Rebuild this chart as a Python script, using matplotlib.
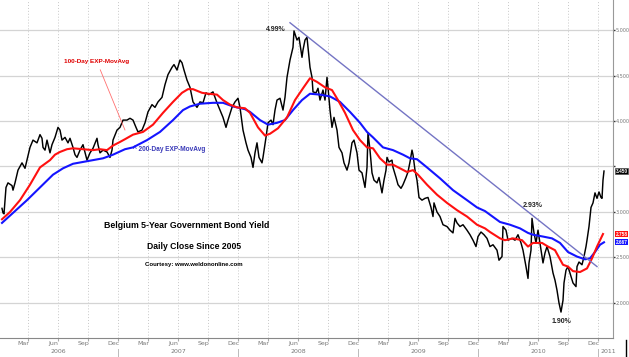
import matplotlib
matplotlib.use('Agg')
import matplotlib.pyplot as plt
import matplotlib.transforms as mtrans
from matplotlib.lines import Line2D

# x = months since Jan 2006, y = yield in %
BLACK_M = [0.4, 0.5, 0.6, 0.8, 1.0, 1.4, 1.5, 1.7, 2.0, 2.4, 2.7, 2.9, 3.2, 3.5, 3.9, 4.2, 4.4, 4.5,
           4.7, 4.9, 5.2, 5.4, 5.7, 6.0, 6.2, 6.4, 6.7, 7.0, 7.2, 7.5, 7.7, 7.9, 8.2, 8.5, 8.9, 9.2,
           9.5, 9.9, 10.0, 10.2, 10.5, 10.9, 11.2, 11.4, 11.5, 11.9, 12.2, 12.5, 12.9, 13.2, 13.5,
           13.8, 14.0, 14.4, 14.7, 15.0, 15.4, 15.7, 16.0, 16.4, 16.7, 17.0, 17.4, 17.6, 17.9, 18.2,
           18.4, 18.6, 18.9, 19.2, 19.5, 19.9, 20.2, 20.5, 20.8, 21.1, 21.5, 21.9, 22.2, 22.5, 22.8,
           23.0, 23.4, 23.7, 24.0, 24.2, 24.5, 24.8, 25.0, 25.3, 25.5, 25.7, 25.9, 26.1, 26.4, 26.5,
           26.8, 27.0, 27.3, 27.5, 27.7, 27.9, 28.2, 28.5, 28.7, 28.9, 29.2, 29.5, 29.6, 29.9, 30.1,
           30.4, 30.5, 30.7, 30.9, 31.0, 31.2, 31.4, 31.5, 31.8, 32.0, 32.2, 32.5, 32.7, 32.9, 33.0,
           33.2, 33.4, 33.6, 33.9, 34.1, 34.4, 34.6, 34.9, 35.1, 35.4, 35.6, 35.9, 36.1, 36.4, 36.7,
           36.9, 37.0, 37.2, 37.4, 37.6, 37.9, 38.1, 38.4, 38.6, 38.8, 38.9, 39.1, 39.4, 39.5, 39.8,
           40.0, 40.3, 40.5, 40.8, 41.0, 41.2, 41.4, 41.5, 41.7, 41.9, 42.1, 42.4, 42.7, 43.0, 43.3,
           43.5, 43.6, 43.9, 44.2, 44.5, 44.9, 45.2, 45.5, 45.7, 45.9, 46.2, 46.5, 46.9, 47.2, 47.5,
           47.8, 48.0, 48.3, 48.6, 48.9, 49.2, 49.5, 49.9, 50.1, 50.4, 50.5, 50.8, 51.0, 51.4, 51.7,
           52.0, 52.3, 52.5, 52.8, 53.0, 53.1, 53.3, 53.4, 53.6, 53.8, 54.0, 54.3, 54.5, 54.7, 54.9,
           55.2, 55.5, 55.7, 55.9, 56.1, 56.3, 56.5, 56.6, 56.8, 57.0, 57.3, 57.5, 57.8, 57.9, 58.1,
           58.4, 58.6, 58.8, 58.9, 59.1, 59.3, 59.5, 59.7, 59.9, 60.1, 60.3, 60.4, 60.5, 60.6]
BLACK_V = [3.04, 2.99, 2.98, 3.27, 3.32, 3.29, 3.24, 3.32, 3.46, 3.54, 3.48, 3.57, 3.71, 3.79, 3.76,
           3.85, 3.81, 3.71, 3.68, 3.79, 3.65, 3.74, 3.82, 3.93, 3.90, 3.79, 3.82, 3.76, 3.81, 3.71,
           3.63, 3.60, 3.68, 3.74, 3.57, 3.65, 3.70, 3.81, 3.74, 3.65, 3.68, 3.66, 3.60, 3.68, 3.79,
           3.90, 3.93, 4.01, 4.01, 4.03, 4.01, 3.93, 3.88, 3.90, 3.98, 4.10, 4.18, 4.15, 4.21, 4.26,
           4.40, 4.51, 4.59, 4.62, 4.56, 4.67, 4.64, 4.56, 4.45, 4.37, 4.21, 4.15, 4.21, 4.20, 4.31,
           4.29, 4.32, 4.20, 4.12, 4.04, 3.93, 4.01, 4.15, 4.21, 4.25, 4.15, 3.90, 3.76, 3.68, 3.60,
           3.49, 3.65, 3.76, 3.60, 3.54, 3.60, 3.82, 3.98, 4.01, 3.96, 4.12, 4.23, 4.25, 4.12, 4.26,
           4.48, 4.67, 4.81, 4.99, 4.89, 4.92, 4.70, 4.78, 4.89, 4.92, 4.81, 4.59, 4.48, 4.32, 4.31,
           4.36, 4.23, 4.34, 4.23, 4.48, 4.37, 4.12, 3.93, 4.04, 3.90, 3.71, 3.65, 3.54, 3.46, 3.54,
           3.76, 3.79, 3.65, 3.46, 3.43, 3.27, 3.49, 3.87, 3.68, 3.43, 3.35, 3.32, 3.38, 3.21, 3.35,
           3.46, 3.60, 3.55, 3.57, 3.49, 3.38, 3.30, 3.26, 3.30, 3.38, 3.44, 3.55, 3.68, 3.63, 3.46,
           3.35, 3.16, 3.13, 3.15, 3.16, 3.05, 2.95, 3.10, 3.00, 2.95, 2.86, 2.84, 2.80, 2.77, 2.93,
           2.88, 2.84, 2.86, 2.80, 2.75, 2.69, 2.62, 2.73, 2.78, 2.75, 2.71, 2.62, 2.64, 2.58, 2.47,
           2.51, 2.84, 2.80, 2.69, 2.71, 2.69, 2.75, 2.66, 2.58, 2.40, 2.27, 2.44, 2.58, 2.93, 2.77,
           2.66, 2.80, 2.58, 2.44, 2.55, 2.62, 2.51, 2.33, 2.25, 2.14, 2.00, 1.90, 2.03, 2.22, 2.36,
           2.40, 2.29, 2.22, 2.18, 2.40, 2.45, 2.42, 2.51, 2.62, 2.69, 2.84, 3.05, 3.10, 3.21, 3.15,
           3.22, 3.16, 3.15, 3.35, 3.45]

RED_M = [0.4, 1.2, 2.2, 3.2, 4.2, 5.2, 5.7, 6.2, 6.9, 7.5, 8.5, 9.5, 10.2, 10.9, 11.5, 12.2, 12.7,
         13.5, 14.5, 15.5, 16.5, 17.5, 18.4, 19.0, 19.5, 20.4, 21.0, 21.9, 22.5, 23.2, 23.9, 24.7,
         25.2, 26.0, 26.7, 27.2, 28.0, 28.9, 29.7, 30.5, 31.2, 31.9, 32.7, 33.4, 34.0, 34.7, 35.5,
         36.2, 36.9, 37.5, 38.2, 38.9, 39.5, 40.2, 40.9, 41.5, 42.0, 42.9, 43.9, 44.9, 45.9, 46.9,
         47.9, 48.7, 49.2, 50.2, 50.7, 51.5, 52.4, 53.0, 53.5, 54.4, 55.0, 55.7, 56.5, 57.0, 57.5,
         58.2, 58.9, 59.4, 59.9, 60.5]
RED_V = [2.92, 3.00, 3.13, 3.30, 3.49, 3.57, 3.63, 3.66, 3.69, 3.70, 3.69, 3.68, 3.69, 3.68, 3.73,
         3.77, 3.80, 3.85, 3.88, 3.96, 4.09, 4.21, 4.31, 4.35, 4.35, 4.31, 4.30, 4.29, 4.23, 4.18,
         4.15, 4.14, 4.09, 3.93, 3.84, 3.86, 3.92, 4.04, 4.23, 4.36, 4.47, 4.43, 4.37, 4.34, 4.23,
         4.09, 3.90, 3.79, 3.71, 3.70, 3.59, 3.52, 3.52, 3.48, 3.44, 3.46, 3.41, 3.30, 3.19, 3.10,
         3.02, 2.95, 2.86, 2.82, 2.78, 2.71, 2.69, 2.71, 2.69, 2.62, 2.66, 2.66, 2.62, 2.58, 2.42,
         2.40, 2.35, 2.34, 2.38, 2.49, 2.62, 2.758]

BLUE_M = [0.4, 1.5, 2.9, 4.2, 5.5, 6.5, 7.5, 8.5, 9.5, 10.5, 11.5, 12.7, 13.5, 14.9, 16.2, 17.5,
          18.5, 19.2, 20.2, 21.5, 22.5, 23.5, 24.7, 25.2, 26.2, 27.0, 27.9, 28.7, 29.5, 30.4, 31.2,
          32.2, 33.2, 34.2, 35.2, 36.2, 36.9, 37.5, 38.5, 39.5, 40.5, 41.2, 41.9, 42.9, 44.2, 45.5,
          46.9, 47.9, 48.7, 49.2, 50.2, 51.2, 52.2, 53.0, 53.5, 54.5, 55.4, 56.2, 57.0, 57.9, 58.7,
          59.2, 59.7, 60.2, 60.6]
BLUE_V = [2.88, 2.99, 3.13, 3.27, 3.41, 3.48, 3.53, 3.55, 3.57, 3.59, 3.63, 3.69, 3.71, 3.79, 3.88,
          4.01, 4.12, 4.16, 4.19, 4.20, 4.20, 4.16, 4.13, 4.10, 4.01, 3.96, 3.98, 4.01, 4.12, 4.23,
          4.30, 4.29, 4.27, 4.21, 4.10, 3.98, 3.88, 3.82, 3.71, 3.68, 3.63, 3.59, 3.58, 3.49, 3.37,
          3.24, 3.13, 3.05, 3.01, 2.97, 2.89, 2.86, 2.82, 2.77, 2.75, 2.73, 2.71, 2.66, 2.56, 2.51,
          2.48, 2.49, 2.56, 2.64, 2.667]

TREND_M = [29.2, 59.9]
TREND_V = [5.08, 2.40]

Y_TICKS = [2.0, 2.5, 3.0, 3.5, 4.0, 4.5, 5.0]
Y_LABELS = ['2.000', '2.500', '3.000', '', '4.000', '4.500', '5.000']  # 3.500 hidden by last-value box
QUARTER_MONTHS = list(range(3, 61, 3))
MONTH_LABELS = ['Mar', 'Jun', 'Sep', 'Dec'] * 5
YEARS = ['2006', '2007', '2008', '2009', '2010']
YEAR_POS = [6, 18, 30, 42, 54]

BOLD = ['Liberation Sans', 'DejaVu Sans']

fig = plt.figure(figsize=(6.29, 3.57), dpi=100)
ax = fig.add_axes([0, 19 / 357, 613 / 629, 338 / 357])

ax.set_xlim(0.2, 61.5)
ax.set_ylim(1.615, 5.33)

# grid
ax.set_yticks(Y_TICKS)
ax.set_xticks(QUARTER_MONTHS)
ax.grid(axis='y', color='#d4d4d4', lw=0.9, ls='-')
ax.grid(axis='x', color='#c8c8c8', lw=0.7, ls=(0, (1, 2)))
ax.set_axisbelow(True)

# series
ax.plot(BLACK_M, BLACK_V, color='black', lw=1.05, zorder=3)
ax.plot(BLUE_M, BLUE_V, color='#1414ff', lw=1.5, zorder=4)
ax.plot(RED_M, RED_V, color='#ff1010', lw=1.5, zorder=5)
ax.plot(TREND_M, TREND_V, color='#7474c4', lw=1.0, zorder=6)

# spines / ticks
for s in ['top', 'left']:
    ax.spines[s].set_visible(False)
ax.spines['bottom'].set_color('#888888')
ax.spines['right'].set_color('#999999')
ax.yaxis.tick_right()
ax.set_yticklabels(Y_LABELS)
ax.tick_params(axis='y', direction='out', length=1.5, width=1.0, color='#333333',
               labelsize=3.5, labelcolor='#777777', pad=0.5)
ax.tick_params(axis='x', which='major', direction='out', length=2, color='#aaaaaa',
               labelbottom=False)
ax.set_xticks([m - 0.5 for m in QUARTER_MONTHS], minor=True)
ax.set_xticklabels(MONTH_LABELS, minor=True)
ax.tick_params(axis='x', which='minor', length=0, labelsize=4.5, labelcolor='#777777', pad=2)

trans = mtrans.blended_transform_factory(ax.transData, ax.transAxes)
for yr, pos in zip(YEARS, YEAR_POS):
    ax.text(pos, -0.041, yr, transform=trans, ha='center', va='center',
            fontsize=4.5, color='#777777')
ax.text(61.0, -0.041, '2011', transform=trans, ha='center', va='center',
        fontsize=4.5, color='#777777', clip_on=False)
for sep in [12, 24, 36, 48, 60]:
    ax.plot([sep, sep], [-0.034, -0.056], transform=trans, color='#bbbbbb', lw=0.7,
            clip_on=False)
fig.add_artist(Line2D([626 / 629, 626 / 629], [0, 17 / 357], color='black', lw=1.0))

# last-value boxes on the right axis
box_kw = dict(transform=mtrans.blended_transform_factory(ax.transAxes, ax.transData),
              ha='left', va='center', fontsize=3.4, color='white', clip_on=False,
              family=BOLD, fontweight='bold')
ax.text(1.004, 3.45, '3.450', bbox=dict(boxstyle='square,pad=0.12', fc='black', ec='#555555', lw=0.5), **box_kw)
ax.text(1.004, 2.758, '2.758', bbox=dict(boxstyle='square,pad=0.12', fc='#ff1010', ec='none'), **box_kw)
ax.text(1.004, 2.667, '2.667', bbox=dict(boxstyle='square,pad=0.12', fc='#1414ff', ec='none'), **box_kw)

# annotations
ax.annotate('100-Day EXP-MovAvg', xy=(12.7, 3.90), xytext=(9.9, 4.65),
            ha='center', va='center', fontsize=4.6, color='#e00000', fontweight='bold',
            family=BOLD,
            arrowprops=dict(arrowstyle='-', color='#ff7070', lw=0.6, shrinkA=2, shrinkB=0))
ax.text(13.5, 3.69, '^ 200-Day EXP-MovAvg', ha='left', va='center', fontsize=4.7,
        color='#3a3ab8', fontweight='bold', family=BOLD)
ax.text(27.8, 5.01, '4.99%', ha='center', va='center', fontsize=5, color='#222222',
        fontweight='bold', family=BOLD)
ax.text(53.5, 3.07, '2.93%', ha='center', va='center', fontsize=5, color='#222222',
        fontweight='bold', family=BOLD)
ax.text(56.3, 1.80, '1.90%', ha='center', va='center', fontsize=5, color='#222222',
        fontweight='bold', family=BOLD)

ax.text(18.9, 2.85, 'Belgium 5-Year Government Bond Yield', ha='center', va='center',
        fontsize=6.3, color='black', fontweight='bold', family=BOLD)
ax.text(19.6, 2.62, 'Daily Close Since 2005', ha='center', va='center',
        fontsize=6.2, color='black', fontweight='bold', family=BOLD)
ax.text(19.6, 2.42, 'Courtesy: www.weldononline.com', ha='center', va='center',
        fontsize=4.3, color='black', fontweight='bold', family=BOLD)

fig.savefig('out.png', dpi=100)
